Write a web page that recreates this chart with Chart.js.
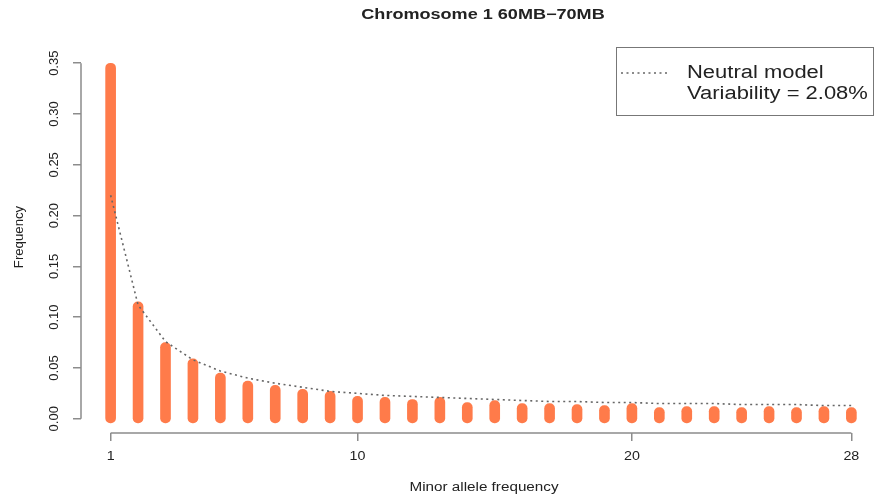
<!DOCTYPE html>
<html>
<head>
<meta charset="utf-8">
<script src="https://cdn.jsdelivr.net/npm/chart.js@4"></script>
<style>
  html, body { margin: 0; padding: 0; background: #fff; }
  #wrap { width: 888px; height: 500px; }
</style>
</head>
<body>
<div id="wrap"><canvas id="chart" width="888" height="500"></canvas></div>
<script>
// minor allele frequency classes (x)
const maf = [1, 2, 3, 4, 5, 6, 7, 8, 9, 10, 11, 12, 13, 14, 15, 16, 17, 18, 19, 20,
             21, 22, 23, 24, 25, 26, 27, 28];
// observed frequency (bars)
const observed = [0.350, 0.115, 0.075, 0.059, 0.045, 0.037, 0.033, 0.029, 0.027, 0.022,
                  0.021, 0.019, 0.021, 0.016, 0.018, 0.015, 0.015, 0.014, 0.013, 0.015,
                  0.011, 0.012, 0.012, 0.011, 0.012, 0.011, 0.012, 0.011];
// neutral model expectation (dotted line)
const neutral = [0.220, 0.112, 0.076, 0.058, 0.047, 0.040, 0.035, 0.031, 0.027, 0.025,
                 0.023, 0.022, 0.021, 0.020, 0.019, 0.018, 0.017, 0.017, 0.016, 0.016,
                 0.015, 0.015, 0.015, 0.014, 0.014, 0.014, 0.013, 0.013];
const xTicks = [1, 10, 20, 28];
const yTicks = [0, 0.05, 0.10, 0.15, 0.20, 0.25, 0.30, 0.35];
const chartTitle = 'Chromosome 1 60MB\u221270MB';
const xTitle = 'Minor allele frequency';
const yTitle = 'Frequency';
const legendLines = ['Neutral model', 'Variability = 2.08%'];

const axisColor = '#8c8c8c';
const textColor = '#222';
const font = '"Liberation Sans", Arial, sans-serif';

// text in the reference is a bit wider than normal, so stretch it sideways
function wideText(ctx, text, x, y, fnt, sx, align) {
    ctx.save();
    ctx.font = fnt;
    ctx.textAlign = align || 'center';
    ctx.translate(x, y);
    ctx.scale(sx, 1);
    ctx.fillText(text, 0, 0);
    ctx.restore();
}

// R-style axes, titles and legend box
const rDecor = {
    id: 'rDecor',
    afterDraw(chart) {
        const ctx = chart.ctx;
        const xs = chart.scales.x, ys = chart.scales.y;
        const area = chart.chartArea;
        ctx.save();
        ctx.strokeStyle = axisColor;
        ctx.lineWidth = 1.5;
        ctx.beginPath();
        ctx.moveTo(area.left, ys.getPixelForValue(yTicks[0]));
        ctx.lineTo(area.left, ys.getPixelForValue(yTicks[yTicks.length - 1]));
        ctx.moveTo(xs.getPixelForValue(xTicks[0]), area.bottom);
        ctx.lineTo(xs.getPixelForValue(xTicks[xTicks.length - 1]), area.bottom);
        ctx.stroke();

        ctx.fillStyle = textColor;
        ctx.textBaseline = 'middle';

        // x tick labels
        xTicks.forEach(v => {
            wideText(ctx, String(v), xs.getPixelForValue(v), 456, '13px ' + font, 1.1);
        });

        // rotated y tick labels
        ctx.font = '13px ' + font;
        ctx.textAlign = 'center';
        yTicks.forEach(v => {
            ctx.save();
            ctx.translate(54, ys.getPixelForValue(v));
            ctx.rotate(-Math.PI / 2);
            ctx.fillText(v.toFixed(2), 0, 0);
            ctx.restore();
        });

        // titles
        const cx = (area.left + area.right) / 2;
        wideText(ctx, chartTitle, cx + 2, 15, 'bold 14px ' + font, 1.29);
        wideText(ctx, xTitle, cx + 3, 488, '12px ' + font, 1.27);
        ctx.save();
        ctx.translate(20, 237);
        ctx.rotate(-Math.PI / 2);
        wideText(ctx, yTitle, 0, 0, '12px ' + font, 1.1);
        ctx.restore();

        // legend
        ctx.strokeStyle = '#777';
        ctx.lineWidth = 1;
        ctx.strokeRect(616.5, 47.5, 257, 68);
        ctx.strokeStyle = '#666';
        ctx.lineWidth = 1.5;
        ctx.setLineDash([2, 3.5]);
        ctx.beginPath();
        ctx.moveTo(621, 73);
        ctx.lineTo(667, 73);
        ctx.stroke();
        ctx.setLineDash([]);
        wideText(ctx, legendLines[0], 687, 73, '18px ' + font, 1.22, 'left');
        wideText(ctx, legendLines[1], 687, 94, '18px ' + font, 1.22, 'left');
        ctx.restore();
    }
};

const ctx = document.getElementById('chart').getContext('2d');
new Chart(ctx, {
    type: 'bar',
    data: {
        datasets: [{
            type: 'line',
            label: legendLines[0],
            data: maf.map((m, i) => ({ x: m, y: neutral[i] })),
            borderColor: '#666',
            borderWidth: 1.6,
            borderDash: [2, 3.5],
            pointRadius: 0,
            tension: 0,
            fill: false,
            order: 0
        }, {
            label: 'Observed',
            data: maf.map((m, i) => ({ x: m, y: observed[i] })),
            backgroundColor: '#ff7b4a',
            barThickness: 10,
            borderRadius: 5,
            borderSkipped: false,
            base: -0.004,
            order: 1
        }]
    },
    options: {
        responsive: false,
        animation: false,
        layout: { padding: { top: 49, right: 7, left: 0, bottom: 0 } },
        plugins: {
            legend: { display: false },
            title: { display: false },
            tooltip: { enabled: false }
        },
        scales: {
            x: {
                type: 'linear',
                min: -0.08,
                max: 29.08,
                offset: false,
                afterBuildTicks: s => { s.ticks = xTicks.map(v => ({ value: v })); },
                afterFit: s => { s.height = 67; },
                grid: { display: true, offset: false, drawOnChartArea: false, drawTicks: true,
                        tickLength: 8, color: axisColor, lineWidth: 1.5 },
                border: { display: false },
                ticks: { display: false }
            },
            y: {
                min: -0.014,
                max: 0.364,
                afterBuildTicks: s => { s.ticks = yTicks.map(v => ({ value: v })); },
                afterFit: s => { s.width = 81; },
                grid: { display: true, drawOnChartArea: false, drawTicks: true,
                        tickLength: 8, color: axisColor, lineWidth: 1.5 },
                border: { display: false },
                ticks: { display: false }
            }
        }
    },
    plugins: [rDecor]
});
</script>
</body>
</html>
